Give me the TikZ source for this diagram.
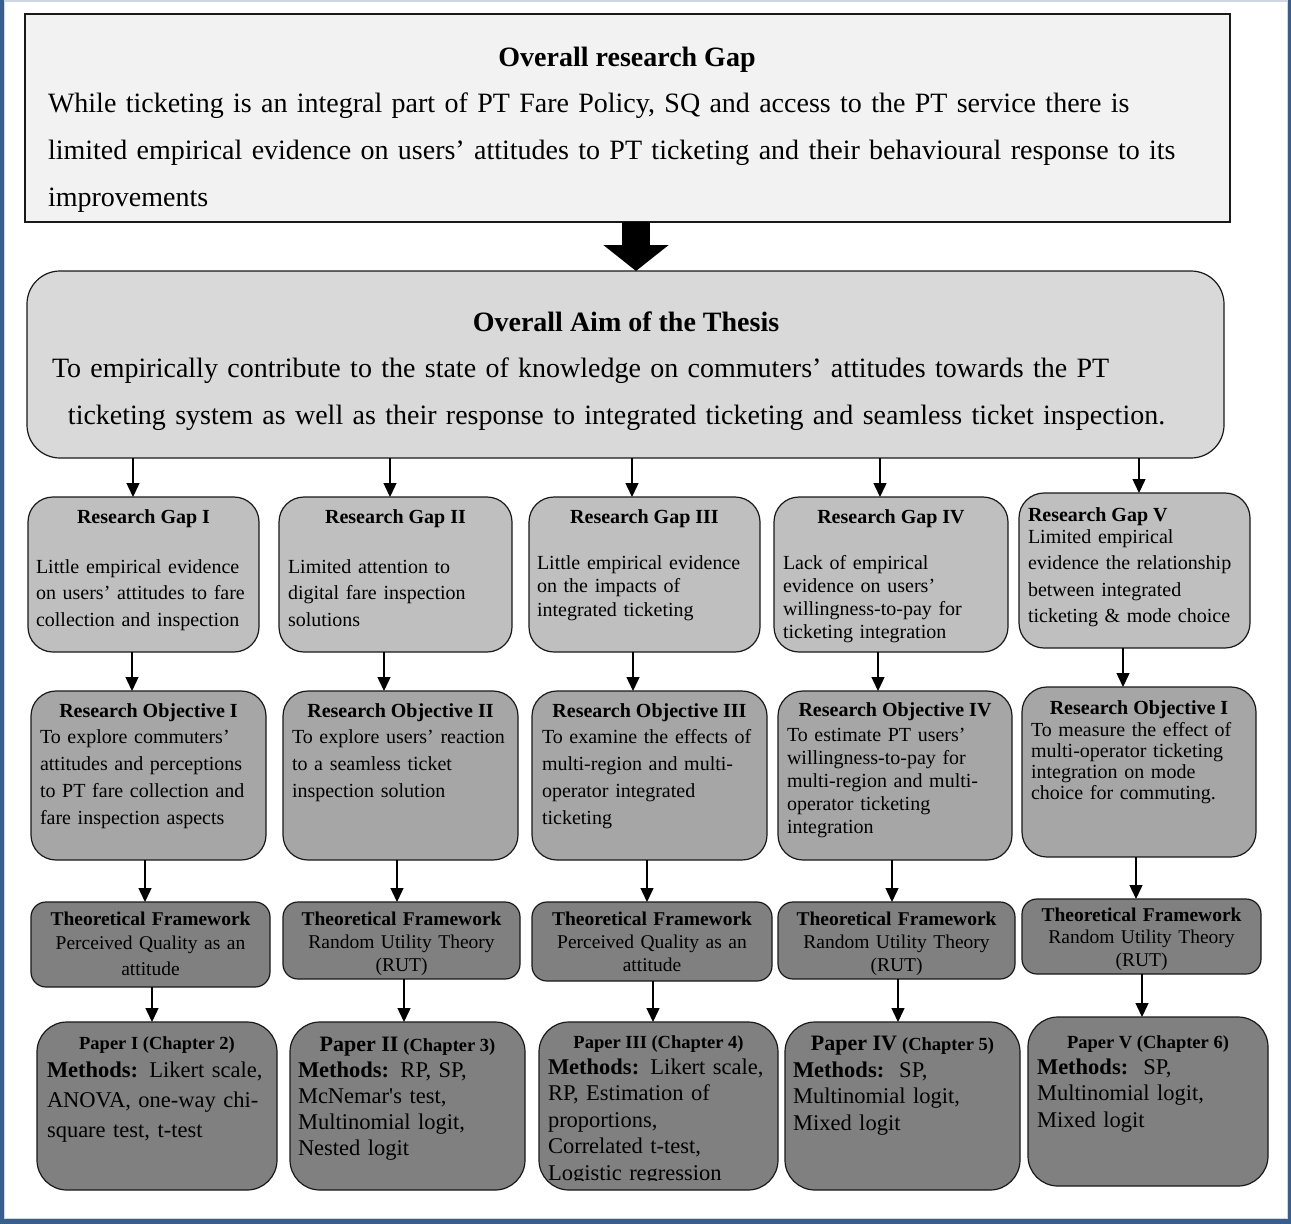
\documentclass[tikz,border=0pt]{standalone}
\usepackage{fontspec}
\setmainfont{Liberation Serif}
\usetikzlibrary{arrows.meta,fit}

\definecolor{frameblue}{RGB}{56,94,142}
\definecolor{framelight}{RGB}{206,214,226}
\definecolor{topfill}{RGB}{242,242,242}
\definecolor{aimfill}{RGB}{217,217,217}
\definecolor{gapfill}{RGB}{191,191,191}
\definecolor{objfill}{RGB}{166,166,166}
\definecolor{darkfill}{RGB}{128,128,128}
\definecolor{edge}{RGB}{25,25,25}

\newcommand\fsz[2]{\fontsize{#1}{#2}\selectfont}
\newcommand\jline[2]{\makebox[#1][s]{#2}}

\tikzset{
  every node/.style={inner sep=0pt, outer sep=0pt},
  box/.style={draw=edge, line width=1.2pt},
  topbox/.style={box, fill=topfill, line width=1.5pt},
  aimbox/.style={box, fill=aimfill, rounded corners=33pt},
  gapbox/.style={box, fill=gapfill, rounded corners=25pt},
  objbox/.style={box, fill=objfill, rounded corners=25pt},
  tfbox/.style={box, fill=darkfill, rounded corners=15pt},
  paperbox/.style={box, fill=darkfill, rounded corners=30pt},
  link/.style={draw=black, line width=1.4pt, -{Triangle[width=13pt,length=14pt]}},
  bigarrow/.style={draw=black, line width=28pt, -{Triangle[width=64pt,length=26pt]}},
  txt/.style={anchor=base west, align=left},
  ctxt/.style={anchor=base, align=center},
  bigtxt/.style={font=\fsz{28}{47}},
  bodytxt/.style={font=\fsz{20}{26.5}},
  tftxt/.style={font=\fsz{19.5}{23}},
  papertxt/.style={font=\fsz{22.5}{26.5}},
  ptitle/.style={font=\fsz{18.5}{22}\bfseries},
}

\begin{document}
\begin{tikzpicture}[x=1pt,y=-1pt]
\useasboundingbox (0,0) rectangle (1291,1224);

% page frame
\fill[frameblue] (0,0) rectangle (1291,1224);
\fill[framelight] (3.5,0) rectangle (1287.5,1219);
\fill[white] (4.5,1.5) rectangle (1286.5,1218);

% ---------- overall research gap ----------
\node[topbox, fit={(25,14) (1230,222)}] (top) {};
\node[ctxt, bigtxt] (topt) at (627,66) {\bfseries Overall research Gap};
\node[txt, bigtxt, text width=1175pt] (topb) at (48,112.5)
  {While ticketing is an integral part of PT Fare Policy, SQ and access to the PT service there is\\
   limited empirical evidence on users' attitudes to PT ticketing and their behavioural response to its\\
   improvements};

% ---------- overall aim ----------
\node[aimbox, fit={(27,271) (1224,458)}] (aim) {};
\node[ctxt, bigtxt] (aimt) at (626,331) {\bfseries Overall Aim of the Thesis};
\node[txt, bigtxt, text width=1170pt] (aimb) at (52,377.5)
  {To empirically contribute to the state of knowledge on commuters' attitudes towards the PT\\
   \hspace*{16pt}ticketing system as well as their response to integrated ticketing and seamless ticket inspection.};

\draw[bigarrow] (top.south -| 636,0) -- (aim.north -| 636,0);

% ---------- research gaps ----------
\node[gapbox, fit={(28,497) (259,652)}]   (g1) {};
\node[gapbox, fit={(279,497) (512,652)}]  (g2) {};
\node[gapbox, fit={(529,497) (760,652)}]  (g3) {};
\node[gapbox, fit={(774,497) (1008,652)}] (g4) {};
\node[gapbox, fit={(1019,493) (1250,648)}] (g5) {};

\node[ctxt, bodytxt] (g1t) at (143.5,523) {\bfseries Research Gap I};
\node[txt, bodytxt, text width=214pt] (g1b) at (36,573)
  {\jline{214pt}{Little empirical evidence}\\
   \jline{214pt}{on users' attitudes to fare}\\
   collection and inspection};

\node[ctxt, bodytxt] (g2t) at (395.5,523) {\bfseries Research Gap II};
\node[txt, bodytxt, text width=220pt] (g2b) at (288,573)
  {Limited attention to\\ digital fare inspection\\ solutions};

\node[ctxt, bodytxt] (g3t) at (644.5,523) {\bfseries Research Gap III};
\node[txt, bodytxt, text width=220pt, font=\fsz{20}{23.5}] (g3b) at (537,569)
  {Little empirical evidence\\ on the impacts of\\ integrated ticketing};

\node[ctxt, bodytxt] (g4t) at (891,523) {\bfseries Research Gap IV};
\node[txt, bodytxt, text width=220pt, font=\fsz{20}{23}] (g4b) at (783,569)
  {Lack of empirical\\ evidence on users'\\ willingness-to-pay for\\ ticketing integration};

\node[txt, bodytxt] (g5t) at (1028,521) {\bfseries Research Gap V};
\node[txt, bodytxt, text width=220pt] (g5b) at (1028,543)
  {Limited empirical\\ evidence the relationship\\ between integrated\\ ticketing \& mode choice};

\draw[link] (aim.south -| 133,0)  -- (g1.north -| 133,0);
\draw[link] (aim.south -| 390,0)  -- (g2.north -| 390,0);
\draw[link] (aim.south -| 632,0)  -- (g3.north -| 632,0);
\draw[link] (aim.south -| 880,0)  -- (g4.north -| 880,0);
\draw[link] (aim.south -| 1139,0) -- (g5.north -| 1139,0);

% ---------- research objectives ----------
\node[objbox, fit={(31,691) (266,860)}]    (o1) {};
\node[objbox, fit={(283,691) (518,860)}]   (o2) {};
\node[objbox, fit={(532,691) (767,860)}]   (o3) {};
\node[objbox, fit={(778,691) (1012,860)}]  (o4) {};
\node[objbox, fit={(1022,687) (1256,857)}] (o5) {};

\node[ctxt, bodytxt] (o1t) at (148.5,717) {\bfseries Research Objective I};
\node[txt, bodytxt, text width=215pt, font=\fsz{20}{27}] (o1b) at (40,743)
  {\jline{215pt}{To explore commuters'}\\
   \jline{215pt}{attitudes and perceptions}\\
   \jline{215pt}{to PT fare collection and}\\
   fare inspection aspects};

\node[ctxt, bodytxt] (o2t) at (400.5,717) {\bfseries Research Objective II};
\node[txt, bodytxt, text width=222pt, font=\fsz{20}{27}] (o2b) at (292,743)
  {To explore users' reaction\\ to a seamless ticket\\ inspection solution};

\node[ctxt, bodytxt] (o3t) at (649.5,717) {\bfseries Research Objective III};
\node[txt, bodytxt, text width=222pt, font=\fsz{20}{27}] (o3b) at (542,743)
  {To examine the effects of\\ multi-region and multi-\\ operator integrated\\ ticketing};

\node[ctxt, bodytxt] (o4t) at (895,716) {\bfseries Research Objective IV};
\node[txt, bodytxt, text width=222pt, font=\fsz{20}{23}] (o4b) at (787,741)
  {To estimate PT users'\\ willingness-to-pay for\\ multi-region and multi-\\ operator ticketing\\ integration};

\node[ctxt, bodytxt] (o5t) at (1139,714) {\bfseries Research Objective I};
\node[txt, bodytxt, text width=222pt, font=\fsz{20}{21.3}] (o5b) at (1031,736)
  {To measure the effect of\\ multi-operator ticketing\\ integration on mode\\ choice for commuting.};

\draw[link] (g1.south -| 132,0)  -- (o1.north -| 132,0);
\draw[link] (g2.south -| 384,0)  -- (o2.north -| 384,0);
\draw[link] (g3.south -| 633,0)  -- (o3.north -| 633,0);
\draw[link] (g4.south -| 878,0)  -- (o4.north -| 878,0);
\draw[link] (g5.south -| 1123,0) -- (o5.north -| 1123,0);

% ---------- theoretical frameworks ----------
\node[tfbox, fit={(31,902) (270,987)}]    (f1) {};
\node[tfbox, fit={(283,902) (520,979)}]   (f2) {};
\node[tfbox, fit={(532,902) (772,981)}]   (f3) {};
\node[tfbox, fit={(778,902) (1015,979)}]  (f4) {};
\node[tfbox, fit={(1022,899) (1261,974)}] (f5) {};

\node[ctxt, tftxt, text width=236pt, font=\fsz{19.5}{24}] (f1t) at (150.5,925)
  {\textbf{Theoretical Framework}\\ Perceived Quality as an\\[2pt] attitude};
\node[ctxt, tftxt, text width=236pt] (f2t) at (401.5,925)
  {\textbf{Theoretical Framework}\\ Random Utility Theory\\ (RUT)};
\node[ctxt, tftxt, text width=236pt] (f3t) at (652,925)
  {\textbf{Theoretical Framework}\\ Perceived Quality as an\\ attitude};
\node[ctxt, tftxt, text width=236pt] (f4t) at (896.5,925)
  {\textbf{Theoretical Framework}\\ Random Utility Theory\\ (RUT)};
\node[ctxt, tftxt, text width=236pt, font=\fsz{19.5}{22.5}] (f5t) at (1141.5,921)
  {\textbf{Theoretical Framework}\\ Random Utility Theory\\ (RUT)};

\draw[link] (o1.south -| 145,0)  -- (f1.north -| 145,0);
\draw[link] (o2.south -| 397,0)  -- (f2.north -| 397,0);
\draw[link] (o3.south -| 647,0)  -- (f3.north -| 647,0);
\draw[link] (o4.south -| 892,0)  -- (f4.north -| 892,0);
\draw[link] (o5.south -| 1136,0) -- (f5.north -| 1136,0);

% ---------- papers ----------
\node[paperbox, fit={(37,1022) (277,1190)}]   (p1) {};
\node[paperbox, fit={(290,1022) (525,1190)}]  (p2) {};
\node[paperbox, fit={(539,1022) (778,1190)}]  (p3) {};
\node[paperbox, fit={(785,1022) (1020,1190)}] (p4) {};
\node[paperbox, fit={(1028,1017) (1268,1186)}] (p5) {};

\node[ctxt, ptitle] (p1t) at (157,1049) {Paper I (Chapter 2)};
\node[txt, papertxt, text width=228pt, font=\fsz{22.5}{30}] (p1b) at (47,1077)
  {\textbf{Methods:} Likert scale,\\ ANOVA, one-way chi-\\ square test, t-test};

\node[ctxt] (p2t) at (407.5,1051)
  {{\fsz{22}{24}\bfseries Paper II}\hspace{5pt}{\fsz{18.5}{24}\bfseries (Chapter 3)}};
\node[txt, papertxt, text width=228pt, font=\fsz{22.5}{26}] (p2b) at (298,1077)
  {\textbf{Methods:} RP, SP,\\ McNemar\textquotesingle s test,\\ Multinomial logit,\\ Nested logit};

\node[ctxt, ptitle] (p3t) at (658.5,1048) {Paper III (Chapter 4)};
\begin{scope}
  \clip (539,1000) rectangle (778,1180);
  \node[txt, papertxt, text width=228pt] (p3b) at (548,1074)
    {\textbf{Methods:} Likert scale,\\ RP, Estimation of\\ proportions,\\ Correlated t-test,\\ Logistic regression};
\end{scope}

\node[ctxt] (p4t) at (902.5,1050)
  {{\fsz{22}{24}\bfseries Paper IV}\hspace{5pt}{\fsz{18.5}{24}\bfseries (Chapter 5)}};
\node[txt, papertxt, text width=228pt] (p4b) at (793,1077)
  {\textbf{Methods:}\ \ SP,\\ Multinomial logit,\\ Mixed logit};

\node[ctxt, ptitle] (p5t) at (1148,1048) {Paper V (Chapter 6)};
\node[txt, papertxt, text width=228pt] (p5b) at (1037,1074)
  {\textbf{Methods:}\ \ SP,\\ Multinomial logit,\\ Mixed logit};

\draw[link] (f1.south -| 152,0)  -- (p1.north -| 152,0);
\draw[link] (f2.south -| 404,0)  -- (p2.north -| 404,0);
\draw[link] (f3.south -| 653,0)  -- (p3.north -| 653,0);
\draw[link] (f4.south -| 898,0)  -- (p4.north -| 898,0);
\draw[link] (f5.south -| 1142,0) -- (p5.north -| 1142,0);
\end{tikzpicture}
\end{document}
